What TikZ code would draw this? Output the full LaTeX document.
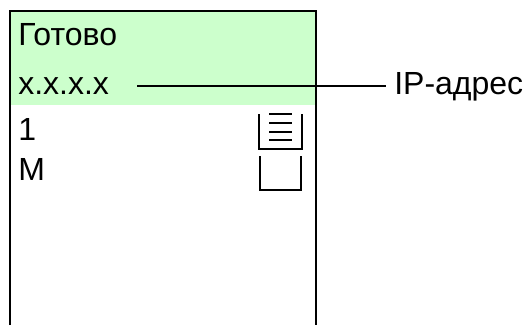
\documentclass[tikz,border=0pt]{standalone}
\usepackage{fontspec}
\setmainfont{Liberation Sans}
\definecolor{panelgreen}{HTML}{CCFFCC}
\tikzset{lbl/.style={inner sep=0pt,anchor=base west,font=\fontsize{24}{28}\selectfont,text=black},
ln/.style={line width=1.5pt,black}}
\begin{document}
\begin{tikzpicture}[x=0.75pt,y=-0.75pt]
\useasboundingbox (0,0) rectangle (523,325);
\fill[white] (0,0) rectangle (523,325);
\fill[panelgreen] (10,11) rectangle (316,105);
\draw[line width=1.5pt] (10,325) -- (10,11) -- (316,11) -- (316,325);
\node[lbl] (status) at (18,45.5) {Готово};
\node[lbl] (ip) at (18,94) {x.x.x.x};
\node[lbl] (one) at (18,140) {1};
\node[lbl] (m) at (18,180) {M};
\node[lbl] (addr) at (394,94) {IP-адрес};
\coordinate (s) at (137,86);
\draw[ln] (s) -- (386,86);
\draw[ln] (259,114) -- (259,149) -- (302,149) -- (302,114);
\draw[line width=1.2pt] (260,156) -- (260,190) -- (301,190) -- (301,156);
\foreach \y in {114,123,132,140} \draw[line width=1.2pt] (269,\y) -- (292,\y);
\end{tikzpicture}
\end{document}
